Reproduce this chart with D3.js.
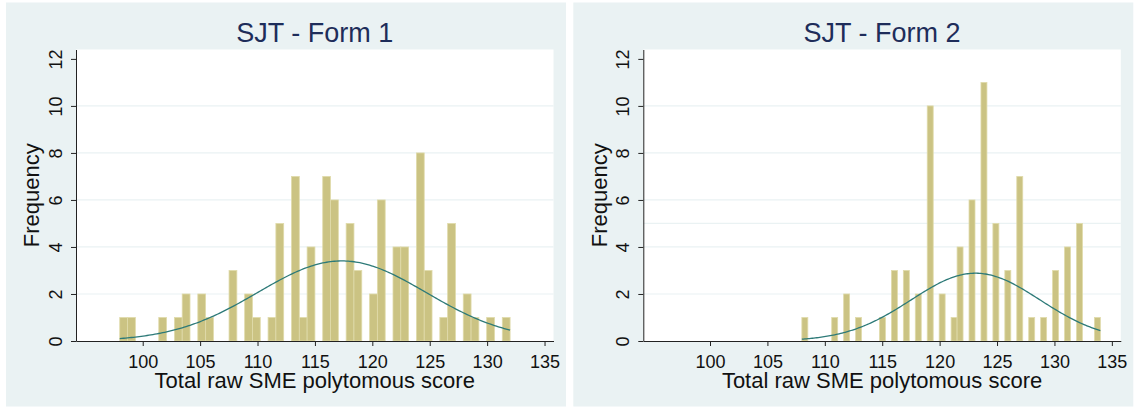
<!DOCTYPE html>
<html>
<head>
<meta charset="utf-8">
<script src="https://cdn.jsdelivr.net/npm/d3@7"></script>
<style>
body { margin: 0; background: #fff; }
text { font-family: "Liberation Sans", Arial, sans-serif; }
</style>
</head>
<body>
<div id="chart"></div>
<script>
var width = 1134
var height = 408

// raw scores and how many people got each one
var scores1 = [98,99,102,103,104,105,106,108,109,110,111,112,113,114,115,116,117,118,119,120,121,122,123,124,125,126,127,128,129,130,132]
var counts1 = [1,1,1,1,2,2,1,3,2,1,1,5,7,1,4,7,6,5,3,2,6,4,4,8,3,1,5,2,1,1,1]
var scores2 = [108,111,112,113,115,116,117,118,119,120,121,122,123,124,125,126,127,128,129,130,131,132,134]
var counts2 = [1,1,2,1,1,3,3,2,10,2,1,4,6,11,5,3,7,1,1,3,4,5,1]

var titles = ["SJT - Form 1", "SJT - Form 2"]
var xTicks = [100,105,110,115,120,125,130,135]
var yTicks = [0,2,4,6,8,10,12]
var grid1 = [2,4,6,8,10]
var grid2 = [2,4,5,6,8,10]
var nBins = 50

var svg = d3.select("#chart")
    .append("svg")
    .attr("width", width)
    .attr("height", height)

function panel(px, title, scores, counts, grid) {
    var left = px + 70, right = px + 547.5, top = 49.5, bottom = 341
    var x = d3.scaleLinear().domain([94.19, 135.78]).range([left, right])
    var y = d3.scaleLinear().domain([0, 12.4]).range([bottom, top])

    var g = svg.append("g")
    g.append("rect")
        .attr("x", px).attr("y", 2.5)
        .attr("width", Math.min(560, width - px)).attr("height", 404)
        .attr("fill", "#eaf2f3")
    g.append("rect")
        .attr("x", left).attr("y", top)
        .attr("width", right - left).attr("height", bottom - top)
        .attr("fill", "#fff")

    g.selectAll(".grid").data(grid).enter().append("line")
        .attr("x1", left).attr("x2", right)
        .attr("y1", function(d){ return y(d); })
        .attr("y2", function(d){ return y(d); })
        .attr("stroke", "#eaf2f3").attr("stroke-width", 1.2)

    // histogram bins, Stata style: 50 bins from min to max, width kept in single precision
    var lo = d3.min(scores), hi = d3.max(scores)
    var w = (hi - lo) / nBins
    var bins = d3.rollup(d3.range(scores.length), function(v){ return d3.sum(v, function(i){ return counts[i]; }); },
        function(i){ return Math.min(nBins - 1, Math.floor((scores[i] - lo) / Math.fround(w))); })

    g.selectAll(".bar").data(Array.from(bins)).enter().append("rect")
        .attr("x", function(d){ return x(lo + d[0] * w); })
        .attr("width", function(d){ return x(lo + (d[0] + 1) * w) - x(lo + d[0] * w); })
        .attr("y", function(d){ return y(d[1]); })
        .attr("height", function(d){ return y(0) - y(d[1]); })
        .attr("fill", "#cbc383")
        .attr("stroke", "#e0dbab")
        .attr("stroke-width", 0.8)

    // normal density scaled to frequencies
    var all = []
    scores.forEach(function(s, i){ for (var k = 0; k < counts[i]; k++) all.push(s); })
    var mu = d3.mean(all), sd = d3.deviation(all), n = all.length
    var pts = d3.range(0, 201).map(function(i){ return lo + (hi - lo) * i / 200; })
    var line = d3.line()
        .x(function(d){ return x(d); })
        .y(function(d){ return y(n * w * Math.exp(-0.5 * Math.pow((d - mu) / sd, 2)) / (sd * Math.sqrt(2 * Math.PI))); })
    g.append("path").datum(pts)
        .attr("d", line)
        .attr("fill", "none")
        .attr("stroke", "#2d7a78")
        .attr("stroke-width", 1.3)

    var ax = g.append("g")
        .attr("transform", "translate(0," + bottom + ")")
        .call(d3.axisBottom(x).tickValues(xTicks).tickSize(5).tickSizeOuter(0).tickPadding(9))
    ax.selectAll("text").style("font-size", "18px").attr("fill", "#111")
    ax.selectAll("line, path").attr("stroke", "#222")

    var ay = g.append("g")
        .attr("transform", "translate(" + left + ",0)")
        .call(d3.axisLeft(y).tickValues(yTicks).tickSize(5).tickSizeOuter(0))
    ay.selectAll("text")
        .attr("transform", "rotate(-90)")
        .attr("x", 0).attr("y", -14).attr("dy", 0)
        .style("text-anchor", "middle")
        .style("font-size", "18px").attr("fill", "#111")
    ay.selectAll("line, path").attr("stroke", "#222")

    g.append("text")
        .attr("x", (left + right) / 2).attr("y", 42.3)
        .attr("text-anchor", "middle")
        .style("font-size", "27px")
        .attr("fill", "#1e2d5a")
        .text(title)

    g.append("text")
        .attr("x", (left + right) / 2).attr("y", 387.7)
        .attr("text-anchor", "middle")
        .style("font-size", "22px")
        .attr("fill", "#111")
        .text("Total raw SME polytomous score")

    g.append("text")
        .attr("transform", "translate(" + [left - 36.7, (top + bottom) / 2] + ") rotate(-90)")
        .attr("text-anchor", "middle")
        .style("font-size", "22px")
        .attr("fill", "#111")
        .text("Frequency")
}

panel(6, titles[0], scores1, counts1, grid1)
panel(573.3, titles[1], scores2, counts2, grid2)
</script>
</body>
</html>
